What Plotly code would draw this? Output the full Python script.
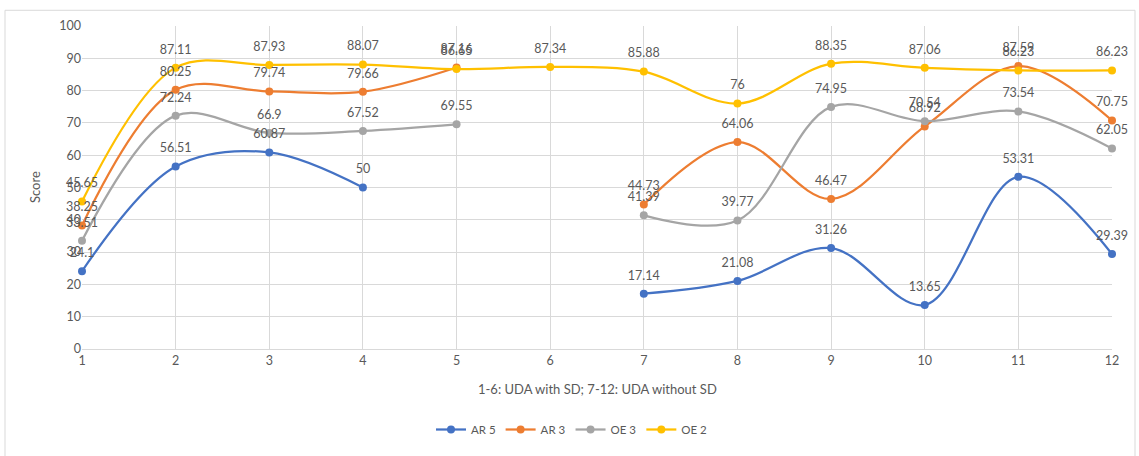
import plotly.graph_objects as go

# Condition index: 1-6 UDA with SD, 7-12 UDA without SD
conditions = list(range(1, 13))

ar5 = [24.1, 56.51, 60.87, 50, None, None, 17.14, 21.08, 31.26, 13.65, 53.31, 29.39]
ar3 = [38.25, 80.25, 79.74, 79.66, 87.16, None, 44.73, 64.06, 46.47, 68.92, 87.59, 70.75]
oe3 = [33.51, 72.24, 66.9, 67.52, 69.55, None, 41.39, 39.77, 74.95, 70.54, 73.54, 62.05]
oe2 = [45.65, 87.11, 87.93, 88.07, 86.65, 87.34, 85.88, 76, 88.35, 87.06, 86.23, 86.23]

series = [
    ("AR 5", ar5, "#4472C4"),
    ("AR 3", ar3, "#ED7D31"),
    ("OE 3", oe3, "#A5A5A5"),
    ("OE 2", oe2, "#FFC000"),
]

FONT = "Lato, 'Open Sans', sans-serif"
TEXT_GRAY = "#595959"
GRID = "#d9d9d9"

fig = go.Figure()
for name, vals, color in series:
    fig.add_trace(go.Scatter(
        x=conditions, y=vals, name=name,
        mode="lines+markers",
        line=dict(color=color, width=2.25, shape="spline", smoothing=1.0),
        marker=dict(color=color, size=8),
        connectgaps=False, cliponaxis=False,
    ))

# value labels: transparent, larger markers push the text a bit higher above each point
for name, vals, color in series:
    labels = ["" if v is None else f"{v:g}" for v in vals]
    fig.add_trace(go.Scatter(
        x=conditions, y=vals, mode="markers+text",
        marker=dict(color="rgba(0,0,0,0)", size=16),
        text=labels, textposition="top center",
        textfont=dict(family=FONT, size=12.5, color=TEXT_GRAY),
        showlegend=False, hoverinfo="skip", cliponaxis=False,
    ))

L, R, T, B = 82, 27, 26, 101
W, H = 1139, 456
pw, ph = W - L - R, H - T - B

def px_x(p):
    return (p - L) / pw

def px_y(p):
    return (H - B - p) / ph

fig.update_layout(
    width=W, height=H,
    margin=dict(l=L, r=R, t=T, b=B),
    paper_bgcolor="white", plot_bgcolor="white",
    font=dict(family=FONT, size=12, color=TEXT_GRAY),
    showlegend=True,
    legend=dict(
        orientation="h", x=px_x(572), xanchor="center",
        y=px_y(437), yanchor="middle",
        font=dict(family=FONT, size=11.5, color=TEXT_GRAY),
        itemwidth=30, tracegroupgap=0,
    ),
    xaxis=dict(
        range=[1, 12], tickmode="linear", tick0=1, dtick=1,
        showgrid=True, gridcolor=GRID, gridwidth=1,
        zeroline=False, showline=True, linecolor=GRID, linewidth=1,
        ticks="", tickfont=dict(family=FONT, size=12.5, color=TEXT_GRAY),
    ),
    yaxis=dict(
        range=[0, 100], tickmode="linear", tick0=0, dtick=10,
        showgrid=True, gridcolor=GRID, gridwidth=1,
        zeroline=False, showline=False, ticks="",
        tickfont=dict(family=FONT, size=12.5, color=TEXT_GRAY),
    ),
    annotations=[
        dict(text="1-6: UDA with SD; 7-12: UDA without SD",
             xref="paper", yref="paper", x=px_x(597), y=px_y(396),
             xanchor="center", yanchor="middle", showarrow=False,
             font=dict(family=FONT, size=13, color=TEXT_GRAY)),
        dict(text="Score", textangle=-90,
             xref="paper", yref="paper", x=px_x(35), y=px_y(190),
             xanchor="center", yanchor="middle", showarrow=False,
             font=dict(family=FONT, size=13, color=TEXT_GRAY)),
    ],
    shapes=[
        dict(type="rect", xref="paper", yref="paper",
             x0=px_x(5), x1=px_x(1135), y0=px_y(470), y1=px_y(10),
             line=dict(color=GRID, width=1), fillcolor="rgba(0,0,0,0)",
             layer="below"),
    ],
)

fig.write_html("out.html")
